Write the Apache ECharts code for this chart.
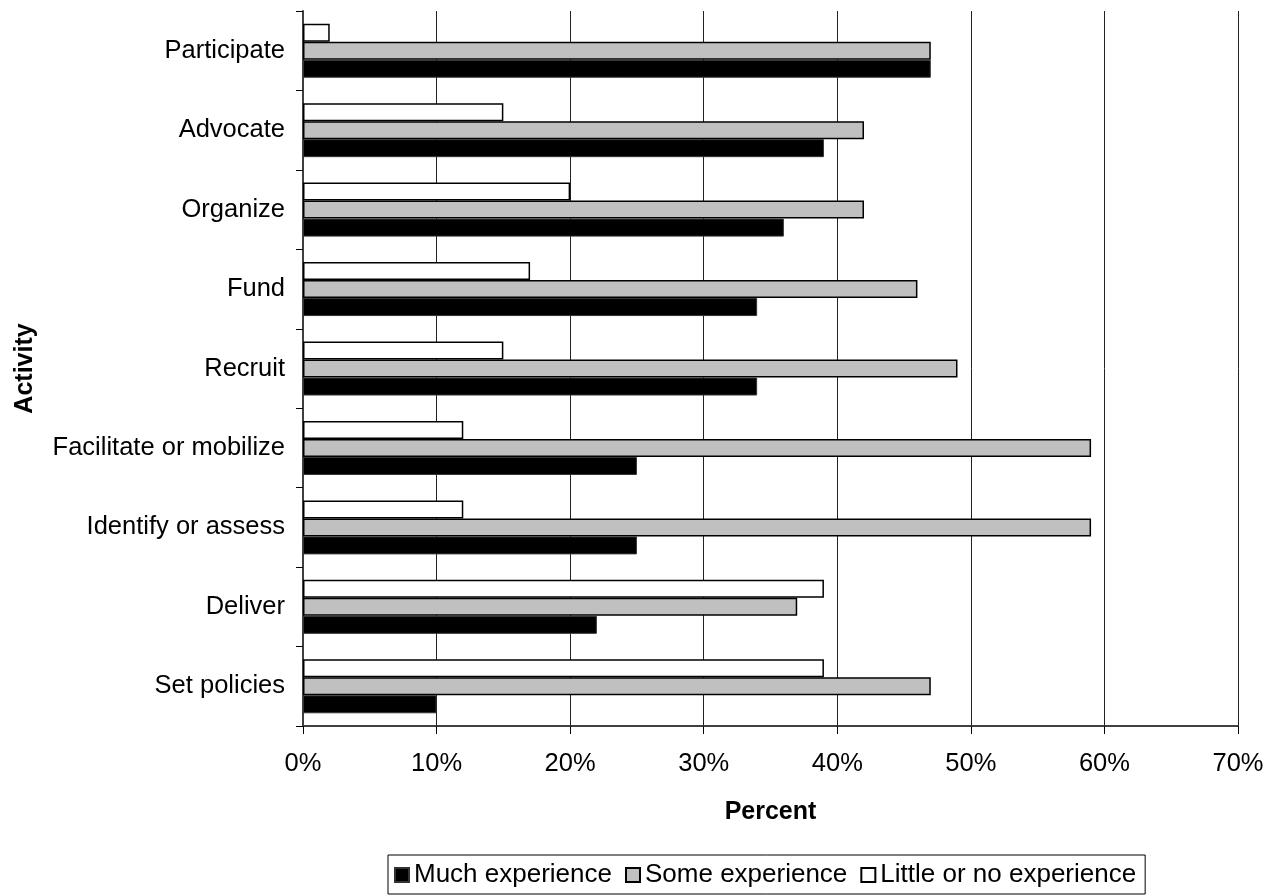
<!DOCTYPE html>
<html>
<head>
<meta charset="utf-8">
<script src="https://cdn.jsdelivr.net/npm/echarts@6/dist/echarts.min.js"></script>
<style>
html,body{margin:0;padding:0;background:#fff;}
#chart{width:1276px;height:895px;}
</style>
</head>
<body>
<div id="chart"></div>
<script>
const categories = ['Participate','Advocate','Organize','Fund','Recruit','Facilitate or mobilize','Identify or assess','Deliver','Set policies'];
const muchExperience = [47, 39, 36, 34, 34, 25, 25, 22, 10];
const someExperience = [47, 42, 42, 46, 49, 59, 59, 37, 47];
const littleExperience = [2, 15, 20, 17, 15, 12, 12, 39, 39];
const xTicks = [0, 10, 20, 30, 40, 50, 60, 70];

const FONT = 'Liberation Sans, Arial, sans-serif';
const FS = 25.5;
const chart = echarts.init(document.getElementById('chart'));

chart.setOption({
  backgroundColor: '#ffffff',
  animation: false,
  textStyle: { fontFamily: FONT, color: '#000' },
  grid: { left: 303, right: 38, top: 11, bottom: 169, containLabel: false },
  legend: {
    data: ['Much experience', 'Some experience', 'Little or no experience'],
    left: 388, top: 855,
    orient: 'horizontal',
    itemWidth: 14, itemHeight: 14, itemGap: 13,
    borderColor: '#000', borderWidth: 1,
    padding: [7, 9, 6, 6],
    textStyle: { fontFamily: FONT, fontSize: 26, color: '#000', padding: [0, 0, 0, 0] },
    icon: 'rect'
  },
  xAxis: {
    type: 'value',
    min: xTicks[0], max: xTicks[xTicks.length - 1], interval: 10,
    name: 'Percent',
    nameLocation: 'middle', nameGap: 74,
    nameTextStyle: { fontFamily: FONT, fontSize: 25, fontWeight: 'bold', color: '#000' },
    axisLine: { show: true, lineStyle: { color: '#404040', width: 2 } },
    axisTick: { show: true, length: 8, lineStyle: { color: '#000', width: 1 } },
    axisLabel: { formatter: '{value}%', fontFamily: FONT, fontSize: FS, color: '#000', margin: 25 },
    splitLine: { show: true, lineStyle: { color: '#222', width: 1 } }
  },
  yAxis: {
    type: 'category',
    data: categories,
    inverse: true,
    name: 'Activity',
    nameLocation: 'middle', nameGap: 265, nameRotate: 90,
    nameTextStyle: { fontFamily: FONT, fontSize: 25, fontWeight: 'bold', color: '#000' },
    axisLine: { show: true, lineStyle: { color: '#404040', width: 2 } },
    axisTick: { show: true, length: 7, inside: false, lineStyle: { color: '#000', width: 1 } },
    axisLabel: { fontFamily: FONT, fontSize: FS, color: '#000', margin: 18 },
    splitLine: { show: false }
  },
  series: [
    {
      name: 'Little or no experience', type: 'bar', data: littleExperience,
      barWidth: 18, barGap: '0%',
      itemStyle: { color: '#ffffff', borderColor: '#000', borderWidth: 1.5 }
    },
    {
      name: 'Some experience', type: 'bar', data: someExperience,
      barWidth: 18, barGap: '0%',
      itemStyle: { color: '#c0c0c0', borderColor: '#000', borderWidth: 1.5 }
    },
    {
      name: 'Much experience', type: 'bar', data: muchExperience,
      barWidth: 18, barGap: '0%',
      itemStyle: { color: '#000000', borderColor: '#333', borderWidth: 1 }
    }
  ]
});
</script>
</body>
</html>
